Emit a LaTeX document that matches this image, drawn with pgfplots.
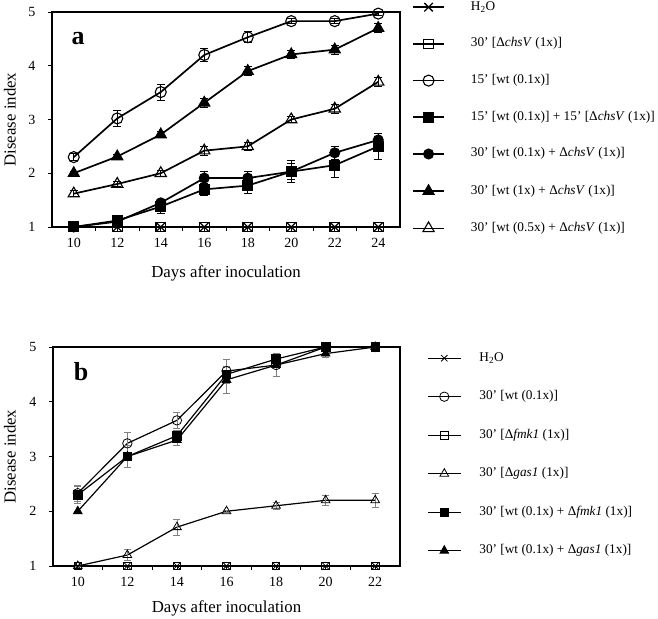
\documentclass[border=0pt]{standalone}
\usepackage{fontspec}
\setmainfont{Liberation Serif}
\usepackage{pgfplots}
\pgfplotsset{compat=1.18}
\usepackage{pgfplotstable}

\pgfplotstableread{
x  h2o dchs oc   oce  fs   fse  fc   fce  ft   fte  ot   ote
10 1   1    2.30 0.06 1.00 0.00 1.00 0.00 2.00 0.04 1.62 0.06
12 1   1    3.02 0.15 1.12 0.05 1.10 0.03 2.31 0.04 1.80 0.05
14 1   1    3.51 0.15 1.38 0.12 1.45 0.05 2.72 0.06 2.00 0.05
16 1   1    4.20 0.12 1.70 0.12 1.91 0.12 3.31 0.08 2.42 0.08
18 1   1    4.53 0.10 1.77 0.15 1.91 0.12 3.90 0.08 2.50 0.08
20 1   1    4.83 0.05 2.03 0.20 2.03 0.15 4.21 0.07 3.00 0.05
22 1   1    4.83 0.05 2.15 0.22 2.38 0.12 4.30 0.08 3.20 0.08
24 1   1    4.97 0.03 2.50 0.25 2.62 0.12 4.70 0.08 3.70 0.08
}\dataA

\pgfplotstableread{
x  h2o dfmk oc   oce  ot   ote  fs   fse  ft   fte
10 1   1    2.33 0.15 1.00 0.00 2.30 0.15 2.00 0.00
12 1   1    3.24 0.20 1.20 0.10 3.00 0.20 3.00 0.20
14 1   1    3.66 0.15 1.71 0.15 3.38 0.10 3.30 0.10
16 1   1    4.56 0.22 2.00 0.02 4.50 0.15 4.40 0.25
18 1   1    4.67 0.20 2.10 0.07 4.78 0.10 4.67 0.20
20 1   1    5.00 0.05 2.20 0.10 5.00 0.03 4.88 0.07
22 1   1    5.00 0.00 2.20 0.12 5.00 0.00 5.00 0.00
}\dataB

\pgfplotsset{
  myaxis/.style={
    scale only axis, xmin=9, ymin=1, ymax=5, ytick={1,...,5},
    tick align=outside, tick pos=left,
    major tick length=4pt, minor tick length=4pt, minor x tick num=1,
    every tick/.style={black, line width=0.8pt},
    axis line style={line width=1.2pt},
    tick label style={font=\fontsize{14}{16}\selectfont},
    /pgf/number format/assume math mode=true,
    label style={font=\fontsize{16.8}{19}\selectfont},
    xticklabel style={yshift=-4pt},
    yticklabel style={xshift=-9pt},
    xlabel={Days after inoculation}, ylabel={Disease index},
    legend cell align=left, clip=false,
  },
  ebA/.style={error bars/.cd, y dir=both, y explicit,
    error bar style={line width=0.8pt, black, solid},
    error mark options={rotate=90, mark size=3.8pt, line width=0.8pt, black, solid}},
  ebB/.style={error bars/.cd, y dir=both, y explicit,
    error bar style={line width=0.6pt, gray, solid},
    error mark options={rotate=90, mark size=3.5pt, line width=0.6pt, gray, solid}},
}

\begin{document}
\begin{tikzpicture}
\useasboundingbox (0pt,0pt) rectangle (658pt,618pt);

% ---------------- Panel a ----------------
\begin{axis}[myaxis,
  at={(52pt,391pt)}, anchor=south west, width=348pt, height=215pt,
  xmax=25, xtick={10,12,...,24},
  xlabel style={at={(axis description cs:0.5,-0.214)}, anchor=center},
  ylabel style={at={(axis description cs:-0.121,0.5)}, anchor=center},
  legend image code/.code={\draw[mark repeat=2,mark phase=2,#1] plot coordinates {(0pt,0pt) (15.5pt,0pt) (31pt,0pt)};},
  legend style={at={(axis description cs:1,1)}, anchor=north west,
    xshift=12pt, yshift=11pt, draw=none, fill=none, inner sep=0pt,
    row sep=24.7pt, font=\fontsize{13.3}{15}\selectfont,
    nodes={inner sep=0pt, text height=9pt, text depth=3pt},
    /tikz/every odd column/.append style={column sep=26pt}},
]
\addplot[black, line width=1.7pt, mark=x, mark size=6pt, mark options={line width=1.3pt}]
  table[x=x,y=h2o]{\dataA};
\addlegendentry{H\textsubscript{2}O}
\addplot[black, line width=1.7pt, mark=square, mark size=4.8pt, mark options={line width=1.1pt, fill=none}]
  table[x=x,y=dchs]{\dataA};
\addlegendentry{30’ [Δ\textit{chsV} (1x)]}
\addplot[black, line width=1.7pt, mark=o, mark size=5.5pt, mark options={line width=1.1pt, fill=white}, ebA]
  table[x=x,y=oc,y error=oce]{\dataA};
\addlegendentry{15’ [wt (0.1x)]}
\addplot[black, line width=1.7pt, mark=square*, mark size=5pt, mark options={line width=1pt}, ebA]
  table[x=x,y=fs,y error=fse]{\dataA};
\addlegendentry{15’ [wt (0.1x)] + 15’ [Δ\textit{chsV} (1x)]}
\addplot[black, line width=1.7pt, mark=*, mark size=5pt, mark options={line width=1pt}, ebA]
  table[x=x,y=fc,y error=fce]{\dataA};
\addlegendentry{30’ [wt (0.1x) + Δ\textit{chsV} (1x)]}
\addplot[black, line width=1.7pt, mark=triangle*, mark size=6.5pt, mark options={line width=1pt}, ebA]
  table[x=x,y=ft,y error=fte]{\dataA};
\addlegendentry{30’ [wt (1x) + Δ\textit{chsV} (1x)]}
\addplot[black, line width=1.7pt, mark=triangle, mark size=6.5pt, mark options={line width=1.1pt, fill=white}, ebA]
  table[x=x,y=ot,y error=ote]{\dataA};
\addlegendentry{30’ [wt (0.5x) + Δ\textit{chsV} (1x)]}
\node[font=\fontsize{26}{28}\selectfont\bfseries, anchor=base] at (axis description cs:0.075,0.847) {a};
\end{axis}

% ---------------- Panel b ----------------
\begin{axis}[myaxis,
  at={(53pt,52pt)}, anchor=south west, width=347pt, height=219pt,
  xmax=23, xtick={10,12,...,22},
  xlabel style={at={(axis description cs:0.5,-0.192)}, anchor=center},
  ylabel style={at={(axis description cs:-0.124,0.5)}, anchor=center},
  legend image code/.code={\draw[mark repeat=2,mark phase=2,#1] plot coordinates {(0pt,0pt) (16.5pt,0pt) (33pt,0pt)};},
  legend style={at={(axis description cs:1,1)}, anchor=north west,
    xshift=27pt, yshift=-5pt, draw=none, fill=none, inner sep=0pt,
    row sep=26.5pt, font=\fontsize{13.3}{15}\selectfont,
    nodes={inner sep=0pt, text height=9pt, text depth=3pt},
    /tikz/every odd column/.append style={column sep=18pt}},
]
\addplot[black, line width=1.2pt, mark=x, mark size=4.5pt, mark options={line width=0.8pt}]
  table[x=x,y=h2o]{\dataB};
\addlegendentry{H\textsubscript{2}O}
\addplot[black, line width=1.2pt, mark=o, mark size=4.7pt, mark options={line width=0.8pt, fill=white}, ebB]
  table[x=x,y=oc,y error=oce]{\dataB};
\addlegendentry{30’ [wt (0.1x)]}
\addplot[black, line width=1.2pt, mark=square, mark size=3.8pt, mark options={line width=0.8pt, fill=none}]
  table[x=x,y=dfmk]{\dataB};
\addlegendentry{30’ [Δ\textit{fmk1} (1x)]}
\addplot[black, line width=1.2pt, mark=triangle, mark size=5pt, mark options={line width=0.8pt, fill=white}, ebB]
  table[x=x,y=ot,y error=ote]{\dataB};
\addlegendentry{30’ [Δ\textit{gas1} (1x)]}
\addplot[black, line width=1.2pt, mark=square*, mark size=4.3pt, mark options={line width=0.8pt}, ebB]
  table[x=x,y=fs,y error=fse]{\dataB};
\addlegendentry{30’ [wt (0.1x) + Δ\textit{fmk1} (1x)]}
\addplot[black, line width=1.2pt, mark=triangle*, mark size=5pt, mark options={line width=0.8pt}, ebB]
  table[x=x,y=ft,y error=fte]{\dataB};
\addlegendentry{30’ [wt (0.1x) + Δ\textit{gas1} (1x)]}
\node[font=\fontsize{26}{28}\selectfont\bfseries, anchor=base] at (axis description cs:0.081,0.849) {b};
\end{axis}
\end{tikzpicture}
\end{document}
